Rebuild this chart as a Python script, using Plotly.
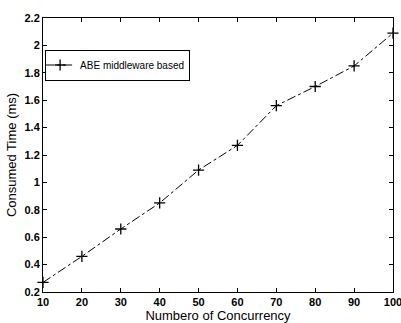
import plotly.graph_objects as go

concurrency = [10, 20, 30, 40, 50, 60, 70, 80, 90, 100]
consumed_time = [0.27, 0.46, 0.66, 0.85, 1.09, 1.27, 1.56, 1.70, 1.85, 2.09]
series_name = "ABE middleware based"
x_ticks = [10, 20, 30, 40, 50, 60, 70, 80, 90, 100]
y_ticks = [0.2, 0.4, 0.6, 0.8, 1.0, 1.2, 1.4, 1.6, 1.8, 2.0, 2.2]
y_tick_labels = ["0.2", "0.4", "0.6", "0.8", "1", "1.2", "1.4", "1.6", "1.8", "2", "2.2"]

FONT = "Liberation Sans, Arial"

fig = go.Figure()
fig.add_trace(go.Scatter(
    x=concurrency, y=consumed_time, name=series_name,
    mode="lines+markers",
    line=dict(color="black", width=1, dash="dashdot"),
    marker=dict(symbol="cross-thin", size=8, line=dict(color="black", width=1.3)),
    showlegend=True,
    cliponaxis=False,
))

axis_common = dict(
    showline=True, linecolor="black", linewidth=1, mirror="ticks",
    ticks="inside", ticklen=4, tickcolor="black", showgrid=False, zeroline=False,
    automargin=False, ticklabeloverflow="allow",
    tickfont=dict(family=FONT, size=11, color="black"),
)
fig.update_xaxes(range=[10, 100], tickvals=x_ticks,
                 ticktext=["<b>%d</b>" % v for v in x_ticks],
                 title=dict(text="Numbero of Concurrency", standoff=0,
                            font=dict(family=FONT, size=13, color="black")),
                 **axis_common)
fig.update_yaxes(range=[0.2, 2.2], tickvals=y_ticks,
                 ticktext=["<b>%s</b>" % t for t in y_tick_labels],
                 title=dict(text="Consumed Time (ms)", standoff=4,
                            font=dict(family=FONT, size=13, color="black")),
                 **axis_common)

fig.update_layout(
    width=401, height=323,
    margin=dict(l=43, r=8, t=18, b=31),
    paper_bgcolor="white", plot_bgcolor="white",
    legend=dict(x=0.006, y=0.885, xanchor="left", yanchor="top",
                bordercolor="black", borderwidth=1, bgcolor="white",
                font=dict(family=FONT, size=10, color="black"),
                itemwidth=30, tracegroupgap=0, indentation=-6),
)
fig.write_html("out.html", config={"displayModeBar": False},
               post_script="document.body.style.margin='0';document.body.style.overflow='hidden';")
